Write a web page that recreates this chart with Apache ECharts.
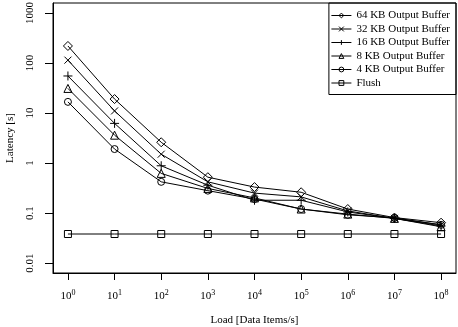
<!DOCTYPE html>
<html>
<head>
<meta charset="utf-8">
<script src="https://cdn.jsdelivr.net/npm/echarts@6/dist/echarts.min.js"></script>
<style>
  html, body { margin: 0; padding: 0; background: #fff; }
  #chart { width: 458px; height: 327px; }
</style>
</head>
<body>
<div id="chart"></div>
<script>
  // load as exponent of 10 (10^0 .. 10^8)
  var loadExp = [0, 1, 2, 3, 4, 5, 6, 7, 8]
  var yTicks = [0.01, 0.1, 1, 10, 100, 1000]

  // latency [s]
  var kb64 = [219, 19, 2.6, 0.52, 0.33, 0.26, 0.12, 0.081, 0.064]
  var kb32 = [114, 11, 1.5, 0.42, 0.25, 0.21, 0.11, 0.078, 0.058]
  var kb16 = [55, 6.2, 0.88, 0.36, 0.18, 0.18, 0.105, 0.078, 0.055]
  var kb8 = [31, 3.6, 0.62, 0.31, 0.2, 0.12, 0.095, 0.078, 0.053]
  var kb4 = [16.7, 1.9, 0.42, 0.28, 0.19, 0.12, 0.092, 0.08, 0.058]
  var flush = [0.038, 0.038, 0.038, 0.038, 0.038, 0.038, 0.038, 0.038, 0.038]

  var font = 'Liberation Serif, Times New Roman, serif'

  function pts(vals) {
    return vals.map(function (v, i) { return [loadExp[i], Math.log10(v)] })
  }

  function mk(name, vals, symbol, size) {
    return {
      name: name,
      type: 'line',
      data: pts(vals),
      symbol: symbol,
      symbolSize: size,
      showSymbol: true,
      lineStyle: { color: '#000', width: 1 },
      itemStyle: { color: 'rgba(255,255,255,0)', borderColor: '#000', borderWidth: 1 },
      emphasis: { disabled: true },
      animation: false
    }
  }

  var myChart = echarts.init(document.getElementById('chart'))
  myChart.setOption({
    animation: false,
    textStyle: { fontFamily: font },
    grid: {
      left: 53, right: 2, top: 3, bottom: 54,
      outerBoundsMode: 'none', containLabel: false,
      show: true, borderColor: '#000', borderWidth: 1
    },
    legend: {
      orient: 'vertical',
      right: 2,
      top: 3,
      borderColor: '#000',
      borderWidth: 1,
      borderRadius: 0,
      padding: [7, 6, 6, 2],
      itemGap: 2.5,
      itemWidth: 20,
      itemHeight: 6,
      itemStyle: { color: 'rgba(255,255,255,0)', borderColor: '#000', borderWidth: 1 },
      lineStyle: { color: '#000', width: 1 },
      textStyle: { fontFamily: font, fontSize: 11, color: '#000' },
      data: ['64 KB Output Buffer', '32 KB Output Buffer', '16 KB Output Buffer', '8 KB Output Buffer', '4 KB Output Buffer', 'Flush']
    },
    xAxis: {
      type: 'value',
      min: -0.32,
      max: 8.32,
      name: 'Load [Data Items/s]',
      nameLocation: 'middle',
      nameGap: 42,
      nameTextStyle: { fontFamily: font, fontSize: 11, color: '#000' },
      axisLine: { show: true, onZero: false, lineStyle: { color: '#000', width: 1 } },
      splitLine: { show: false },
      axisTick: { show: true, inside: false, length: 7, lineStyle: { color: '#000', width: 1 }, customValues: loadExp },
      axisLabel: {
        customValues: loadExp,
        margin: 16,
        color: '#000',
        formatter: function (v) { return '{b|10}{s|' + v + '}' },
        rich: {
          b: { fontFamily: font, fontSize: 11, color: '#000' },
          s: { fontFamily: font, fontSize: 8, color: '#000', padding: [0, 0, 7, 0] }
        }
      }
    },
    yAxis: {
      type: 'value',
      min: -2.2,
      max: 3.2,
      name: 'Latency [s]',
      nameLocation: 'middle',
      nameGap: 37,
      nameTextStyle: { fontFamily: font, fontSize: 11, color: '#000' },
      axisLine: { show: true, onZero: false, lineStyle: { color: '#000', width: 1 } },
      splitLine: { show: false },
      axisTick: { show: true, inside: false, length: 8, lineStyle: { color: '#000', width: 1 }, customValues: yTicks.map(Math.log10) },
      axisLabel: {
        customValues: yTicks.map(Math.log10),
        rotate: 90,
        margin: 17,
        fontFamily: font,
        fontSize: 11,
        color: '#000',
        formatter: function (v) { return String(Number(Math.pow(10, v).toPrecision(1))) }
      }
    },
    series: [
      mk('64 KB Output Buffer', kb64, 'diamond', 9),
      mk('32 KB Output Buffer', kb32, 'path://M0,0L10,10M10,0L0,10', 7),
      mk('16 KB Output Buffer', kb16, 'path://M5,0L5,10M0,5L10,5', 9),
      mk('8 KB Output Buffer', kb8, 'triangle', 8),
      mk('4 KB Output Buffer', kb4, 'circle', 7),
      mk('Flush', flush, 'rect', 7)
    ]
  })
</script>
</body>
</html>
